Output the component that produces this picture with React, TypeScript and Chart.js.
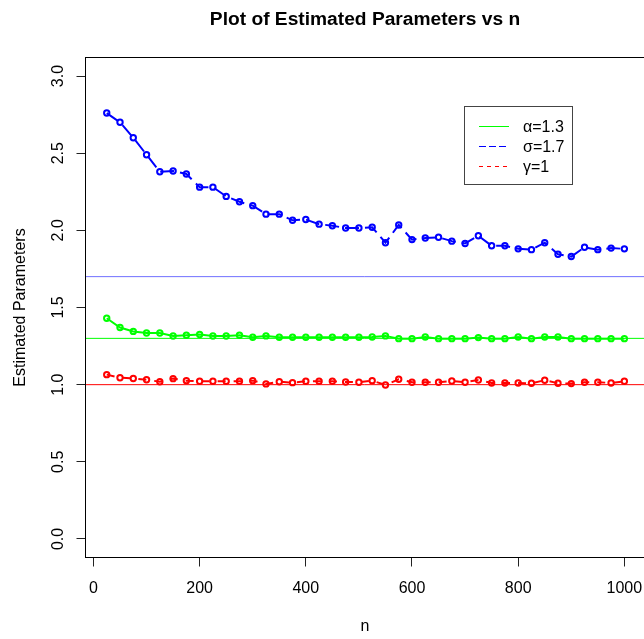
import React, { useEffect, useRef } from "react";
import { Chart, registerables } from "chart.js";

Chart.register(...registerables);

// ---- data ----
const nValues = [25, 50, 75, 100, 125, 150, 175, 200, 225, 250, 275, 300, 325, 350, 375, 400, 425, 450, 475, 500,
  525, 550, 575, 600, 625, 650, 675, 700, 725, 750, 775, 800, 825, 850, 875, 900, 925, 950, 975, 1000];

const alphaHat = [1.43, 1.37, 1.345, 1.335, 1.335, 1.315, 1.32, 1.325, 1.315, 1.315, 1.32, 1.307, 1.316, 1.307, 1.307, 1.307, 1.307, 1.307, 1.307, 1.307,
  1.309, 1.316, 1.298, 1.298, 1.309, 1.298, 1.298, 1.298, 1.305, 1.298, 1.298, 1.309, 1.298, 1.309, 1.309, 1.298, 1.298, 1.298, 1.298, 1.298];

const sigmaHat = [2.76, 2.70, 2.60, 2.49, 2.38, 2.385, 2.365, 2.28, 2.28, 2.22, 2.185, 2.16, 2.105, 2.105, 2.065, 2.07, 2.04, 2.03, 2.015, 2.015,
  2.02, 1.92, 2.035, 1.94, 1.95, 1.955, 1.93, 1.915, 1.965, 1.90, 1.90, 1.88, 1.875, 1.92, 1.845, 1.83, 1.89, 1.875, 1.885, 1.88];

const gammaHat = [1.065, 1.045, 1.04, 1.032, 1.019, 1.039, 1.026, 1.022, 1.022, 1.022, 1.022, 1.026, 1.005, 1.019, 1.013, 1.022, 1.022, 1.022, 1.017, 1.016,
  1.026, 0.998, 1.035, 1.016, 1.016, 1.016, 1.024, 1.016, 1.03, 1.011, 1.011, 1.011, 1.009, 1.029, 1.009, 1.007, 1.016, 1.016, 1.011, 1.022];

const trueAlpha = 1.3;
const trueSigma = 1.7;
const trueGamma = 1;

const xTicks = [0, 200, 400, 600, 800, 1000];
const yTicks = [0, 0.5, 1, 1.5, 2, 2.5, 3];
const yTickLabels = ["0.0", "0.5", "1.0", "1.5", "2.0", "2.5", "3.0"];
const xLimits = [-15, 1037];
const yLimits = [-0.12, 3.12];

const legendLabels = ["α=1.3", "σ=1.7", "γ=1"];
const titleText = "Plot of Estimated Parameters vs n";
const xTitle = "n";
const yTitle = "Estimated Parameters";

// ---- styles ----
const FONT = '"Liberation Sans", Arial, sans-serif';
const GREEN = "#00ff00";
const BLUE = "#0000ff";
const RED = "#ff0000";

const W = 644;
const H = 639;

const decorPlugin = {
  id: "rDecor",
  afterDraw(chart: any) {
    const { ctx, chartArea: a, scales } = chart;
    const xs = scales.x;
    const ys = scales.y;
    ctx.save();

    // plot box
    ctx.strokeStyle = "#000";
    ctx.lineWidth = 1;
    ctx.setLineDash([]);
    ctx.strokeRect(a.left, a.top, a.right - a.left + 2, a.bottom - a.top);

    ctx.fillStyle = "#000";
    // title
    ctx.font = `bold 19.2px ${FONT}`;
    ctx.textAlign = "center";
    ctx.textBaseline = "alphabetic";
    ctx.fillText(titleText, 365, 25);

    // x tick labels
    ctx.font = `16px ${FONT}`;
    xTicks.forEach((v) => {
      ctx.fillText(String(v), xs.getPixelForValue(v), 593);
    });
    // x title
    ctx.fillText(xTitle, 365, 631);

    // y tick labels (rotated)
    yTicks.forEach((v, i) => {
      ctx.save();
      ctx.translate(63.3, ys.getPixelForValue(v));
      ctx.rotate(-Math.PI / 2);
      ctx.textAlign = "center";
      ctx.fillText(yTickLabels[i], 0, 0);
      ctx.restore();
    });
    // y title
    ctx.save();
    ctx.translate(24.5, (a.top + a.bottom) / 2);
    ctx.rotate(-Math.PI / 2);
    ctx.textAlign = "center";
    ctx.fillText(yTitle, 0, 0);
    ctx.restore();

    // legend
    ctx.strokeStyle = "#444";
    ctx.lineWidth = 1;
    ctx.strokeRect(464.5, 106.5, 108, 78);
    const rows = [126, 146, 166];
    const colors = [GREEN, BLUE, RED];
    const dashes = [[], [7, 3], [4, 4]];
    rows.forEach((ry, i) => {
      ctx.beginPath();
      ctx.strokeStyle = colors[i];
      ctx.setLineDash(dashes[i]);
      ctx.moveTo(479, ry + 0.5);
      ctx.lineTo(509, ry + 0.5);
      ctx.stroke();
      ctx.setLineDash([]);
      ctx.fillStyle = "#000";
      ctx.textAlign = "left";
      ctx.textBaseline = "middle";
      ctx.fillText(legendLabels[i], 523, ry + 2);
    });

    ctx.restore();
  },
};

function series(values: number[]) {
  return nValues.map((n, i) => ({ x: n, y: values[i] }));
}

function refLine(v: number) {
  return [
    { x: xLimits[0], y: v },
    { x: xLimits[1], y: v },
  ];
}

export default function App() {
  const canvasRef = useRef<HTMLCanvasElement | null>(null);

  useEffect(() => {
    const canvas = canvasRef.current;
    if (!canvas) return;
    const pointOpts = {
      pointRadius: 2.7,
      pointBorderWidth: 2,
      pointBackgroundColor: "rgba(0,0,0,0)",
      pointStyle: "circle",
    };
    const chart = new Chart(canvas, {
      type: "line",
      data: {
        datasets: [
          {
            data: series(sigmaHat),
            borderColor: BLUE,
            pointBorderColor: BLUE,
            borderWidth: 2,
            borderDash: [14, 6],
            ...pointOpts,
          },
          {
            data: series(alphaHat),
            borderColor: GREEN,
            pointBorderColor: GREEN,
            borderWidth: 2,
            ...pointOpts,
          },
          {
            data: series(gammaHat),
            borderColor: RED,
            pointBorderColor: RED,
            borderWidth: 2,
            borderDash: [8, 8],
            ...pointOpts,
          },
          {
            data: refLine(trueAlpha),
            borderColor: GREEN,
            borderWidth: 1,
            pointRadius: 0,
          },
          {
            data: refLine(trueSigma),
            borderColor: "#7070ff",
            borderWidth: 1,
            pointRadius: 0,
          },
          {
            data: refLine(trueGamma),
            borderColor: RED,
            borderWidth: 1,
            pointRadius: 0,
          },
        ] as any,
      },
      options: {
        responsive: false,
        animation: false,
        devicePixelRatio: 1,
        events: [],
        layout: { autoPadding: false, padding: { top: 57.5, left: 0, right: 0, bottom: 0 } },
        plugins: {
          legend: { display: false },
          title: { display: false },
          tooltip: { enabled: false },
        },
        scales: {
          x: {
            type: "linear",
            min: xLimits[0],
            max: xLimits[1],
            ticks: { display: false },
            grid: {
              display: true,
              drawOnChartArea: false,
              drawTicks: true,
              tickLength: 9,
              color: "#222",
            },
            border: { display: false },
            afterBuildTicks: (s: any) => {
              s.ticks = xTicks.map((v) => ({ value: v }));
            },
            afterFit: (s: any) => {
              s.height = H - 557.5;
            },
          },
          y: {
            type: "linear",
            min: yLimits[0],
            max: yLimits[1],
            ticks: { display: false },
            grid: {
              display: true,
              drawOnChartArea: false,
              drawTicks: true,
              tickLength: 9,
              color: "#222",
            },
            border: { display: false },
            afterBuildTicks: (s: any) => {
              s.ticks = yTicks.map((v) => ({ value: v }));
            },
            afterFit: (s: any) => {
              s.width = 85.5;
            },
          },
        },
      } as any,
      plugins: [decorPlugin],
    });
    return () => chart.destroy();
  }, []);

  return (
    <div style={{ position: "absolute", left: 0, top: 0, width: W, height: H, background: "#fff" }}>
      <canvas ref={canvasRef} width={W} height={H} style={{ width: W, height: H, display: "block" }} />
    </div>
  );
}
